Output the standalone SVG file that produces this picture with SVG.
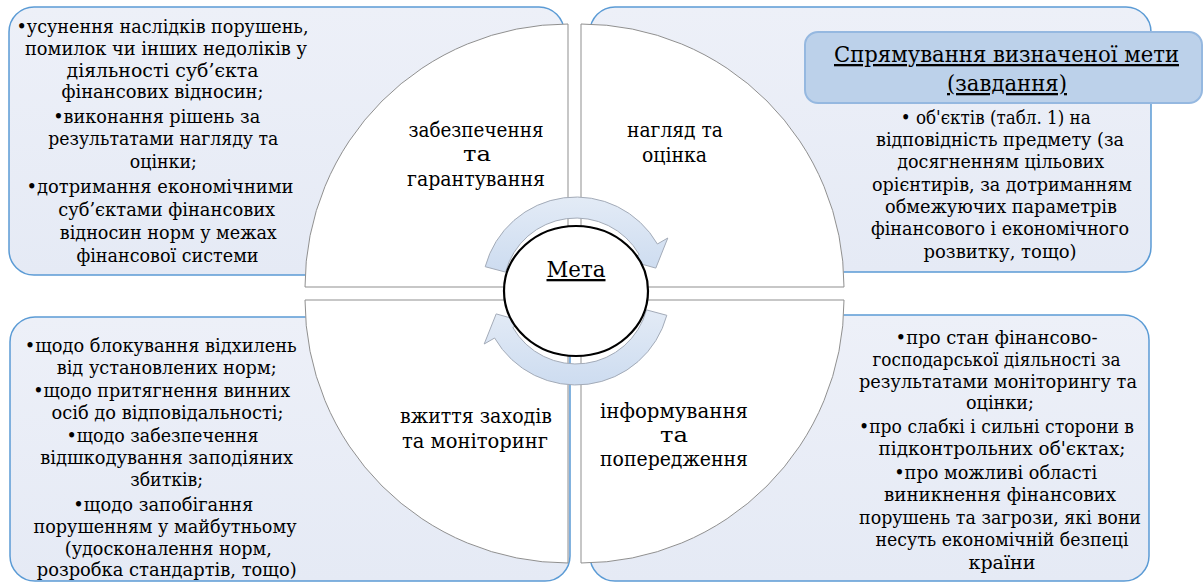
<svg xmlns="http://www.w3.org/2000/svg" width="1204" height="585" viewBox="0 0 1204 585" font-family="DejaVu Serif, serif">
<defs>
<linearGradient id="boxg" x1="0" y1="0" x2="0" y2="1">
<stop offset="0" stop-color="#edf0f8"/>
<stop offset="1" stop-color="#e5eaf5"/>
</linearGradient>
<linearGradient id="arrg" x1="0" y1="0" x2="0" y2="1">
<stop offset="0" stop-color="#e3ebf6"/>
<stop offset="1" stop-color="#cddcf0"/>
</linearGradient>
<style>
.box{fill:url(#boxg);stroke:#5b9bd5;stroke-width:1.5}
.ttl{fill:#bcd1ea;stroke:#95b8e0;stroke-width:2}
.quad{fill:#ffffff;stroke:#8f8f8f;stroke-width:1}
.arr{fill:url(#arrg);stroke:#a3abb8;stroke-width:1}
.goal{fill:#ffffff;stroke:#000000;stroke-width:2.2}
.b,.q,.h{fill:#000000;text-anchor:middle}
.b{font-size:19px}
.q{font-size:21px}
.h{font-size:23px;text-decoration:underline}
</style>
</defs>

<g id="box-top-left">
<rect class="box" x="9" y="7" width="555" height="268" rx="25"/>
<text class="b" x="162.5" y="33" textLength="292" lengthAdjust="spacingAndGlyphs">•усунення наслідків порушень,</text>
<text class="b" x="166" y="55" textLength="282" lengthAdjust="spacingAndGlyphs">помилок чи інших недоліків у</text>
<text class="b" x="162.5" y="77" textLength="192" lengthAdjust="spacingAndGlyphs">діяльності суб’єкта</text>
<text class="b" x="162.5" y="98" textLength="202" lengthAdjust="spacingAndGlyphs">фінансових відносин;</text>
<text class="b" x="156.7" y="123" textLength="207" lengthAdjust="spacingAndGlyphs">•виконання рішень за</text>
<text class="b" x="163.3" y="145" textLength="230" lengthAdjust="spacingAndGlyphs">результатами нагляду та</text>
<text class="b" x="163.3" y="168" textLength="67" lengthAdjust="spacingAndGlyphs">оцінки;</text>
<text class="b" x="160" y="193" textLength="267" lengthAdjust="spacingAndGlyphs">•дотримання економічними</text>
<text class="b" x="166.7" y="216" textLength="217" lengthAdjust="spacingAndGlyphs">суб’єктами фінансових</text>
<text class="b" x="168.3" y="239" textLength="217" lengthAdjust="spacingAndGlyphs">відносин норм у межах</text>
<text class="b" x="167.5" y="262" textLength="182" lengthAdjust="spacingAndGlyphs">фінансової системи</text>
</g>

<g id="box-top-right">
<rect class="box" x="590" y="7" width="561" height="265" rx="25"/>
<text class="b" x="995.7" y="124" textLength="190" lengthAdjust="spacingAndGlyphs">• об'єктів (табл. 1) на</text>
<text class="b" x="1000" y="146" textLength="248" lengthAdjust="spacingAndGlyphs">відповідність предмету (за</text>
<text class="b" x="1000.7" y="168" textLength="207" lengthAdjust="spacingAndGlyphs">досягненням цільових</text>
<text class="b" x="1002" y="191" textLength="260" lengthAdjust="spacingAndGlyphs">орієнтирів, за дотриманням</text>
<text class="b" x="1001" y="213" textLength="232" lengthAdjust="spacingAndGlyphs">обмежуючих параметрів</text>
<text class="b" x="1000" y="235" textLength="258" lengthAdjust="spacingAndGlyphs">фінансового і економічного</text>
<text class="b" x="1000" y="258" textLength="153" lengthAdjust="spacingAndGlyphs">розвитку, тощо)</text>
</g>

<g id="title">
<rect class="ttl" x="805" y="32" width="397" height="71" rx="13"/>
<text class="h" x="1006.5" y="62" textLength="345" lengthAdjust="spacingAndGlyphs">Спрямування визначеної мети</text>
<text class="h" x="1007" y="91" textLength="120" lengthAdjust="spacingAndGlyphs">(завдання)</text>
</g>

<g id="box-bottom-left">
<rect class="box" x="10" y="317" width="560" height="264" rx="25"/>
<text class="b" x="160.8" y="352" textLength="272" lengthAdjust="spacingAndGlyphs">•щодо блокування відхилень</text>
<text class="b" x="166.7" y="374" textLength="220" lengthAdjust="spacingAndGlyphs">від установлених норм;</text>
<text class="b" x="161.7" y="397" textLength="257" lengthAdjust="spacingAndGlyphs">•щодо притягнення винних</text>
<text class="b" x="167.5" y="419" textLength="232" lengthAdjust="spacingAndGlyphs">осіб до відповідальності;</text>
<text class="b" x="162.5" y="442" textLength="192" lengthAdjust="spacingAndGlyphs">•щодо забезпечення</text>
<text class="b" x="166.7" y="464" textLength="253" lengthAdjust="spacingAndGlyphs">відшкодування заподіяних</text>
<text class="b" x="166.7" y="486" textLength="73" lengthAdjust="spacingAndGlyphs">збитків;</text>
<text class="b" x="163.3" y="511" textLength="180" lengthAdjust="spacingAndGlyphs">•щодо запобігання</text>
<text class="b" x="165" y="533" textLength="263" lengthAdjust="spacingAndGlyphs">порушенням у майбутньому</text>
<text class="b" x="168.3" y="555" textLength="207" lengthAdjust="spacingAndGlyphs">(удосконалення норм,</text>
<text class="b" x="166.7" y="576" textLength="260" lengthAdjust="spacingAndGlyphs">розробка стандартів, тощо)</text>
</g>

<g id="box-bottom-right">
<rect class="box" x="590" y="315" width="559" height="266" rx="25"/>
<text class="b" x="996.5" y="344" textLength="202" lengthAdjust="spacingAndGlyphs">•про стан фінансово-</text>
<text class="b" x="996.5" y="366" textLength="248" lengthAdjust="spacingAndGlyphs">господарської діяльності за</text>
<text class="b" x="998" y="388" textLength="278" lengthAdjust="spacingAndGlyphs">результатами моніторингу та</text>
<text class="b" x="1000" y="409" textLength="68" lengthAdjust="spacingAndGlyphs">оцінки;</text>
<text class="b" x="996.5" y="433" textLength="275" lengthAdjust="spacingAndGlyphs">•про слабкі і сильні сторони в</text>
<text class="b" x="1002" y="455" textLength="247" lengthAdjust="spacingAndGlyphs">підконтрольних об'єктах;</text>
<text class="b" x="995.7" y="479" textLength="203" lengthAdjust="spacingAndGlyphs">•про можливі області</text>
<text class="b" x="1000" y="501" textLength="232" lengthAdjust="spacingAndGlyphs">виникнення фінансових</text>
<text class="b" x="1000" y="524" textLength="282" lengthAdjust="spacingAndGlyphs">порушень та загрози, які вони</text>
<text class="b" x="1002" y="546" textLength="253" lengthAdjust="spacingAndGlyphs">несуть економічній безпеці</text>
<text class="b" x="1002" y="569" textLength="67" lengthAdjust="spacingAndGlyphs">країни</text>
</g>

<g id="quad-top-left">
<path class="quad" d="M568,287 L305,287 A263,263 0 0 1 568,24 Z"/>
<text class="q" x="476" y="137" textLength="135" lengthAdjust="spacingAndGlyphs">забезпечення</text>
<text class="q" x="477" y="161" textLength="28" lengthAdjust="spacingAndGlyphs">та</text>
<text class="q" x="476" y="186" textLength="138" lengthAdjust="spacingAndGlyphs">гарантування</text>
</g>

<g id="quad-top-right">
<path class="quad" d="M581,287 L581,24 A263,263 0 0 1 844,287 Z"/>
<text class="q" x="675" y="137" textLength="96" lengthAdjust="spacingAndGlyphs">нагляд та</text>
<text class="q" x="674.5" y="162" textLength="65" lengthAdjust="spacingAndGlyphs">оцінка</text>
</g>

<g id="quad-bottom-left">
<path class="quad" d="M568,300 L568,563 A263,263 0 0 1 305,300 Z"/>
<text class="q" x="476" y="423" textLength="152" lengthAdjust="spacingAndGlyphs">вжиття заходів</text>
<text class="q" x="475" y="448" textLength="146" lengthAdjust="spacingAndGlyphs">та моніторинг</text>
</g>

<g id="quad-bottom-right">
<path class="quad" d="M581,300 L844,300 A263,263 0 0 1 581,563 Z"/>
<text class="q" x="674" y="418" textLength="148" lengthAdjust="spacingAndGlyphs">інформування</text>
<text class="q" x="674" y="442" textLength="28" lengthAdjust="spacingAndGlyphs">та</text>
<text class="q" x="674" y="466" textLength="148" lengthAdjust="spacingAndGlyphs">попередження</text>
</g>

<g id="connectors">
<path class="arr" d="M485.2,266.7 A94,94 0 0 1 657.4,244 L667.8,238 L655.8,268.1 L628.8,260.5 L639.2,254.5 A73,73 0 0 0 505.5,272.1 Z"/>
<path class="arr" d="M666.8,315.3 A94,94 0 0 1 494.6,338 L484.2,344 L496.2,313.9 L523.2,321.5 L512.8,327.5 A73,73 0 0 0 646.5,309.9 Z"/>
</g>

<g id="goal">
<ellipse class="goal" cx="576" cy="291" rx="72" ry="65"/>
<text class="h" x="576" y="277" textLength="59" lengthAdjust="spacingAndGlyphs">Мета</text>
</g>
</svg>
